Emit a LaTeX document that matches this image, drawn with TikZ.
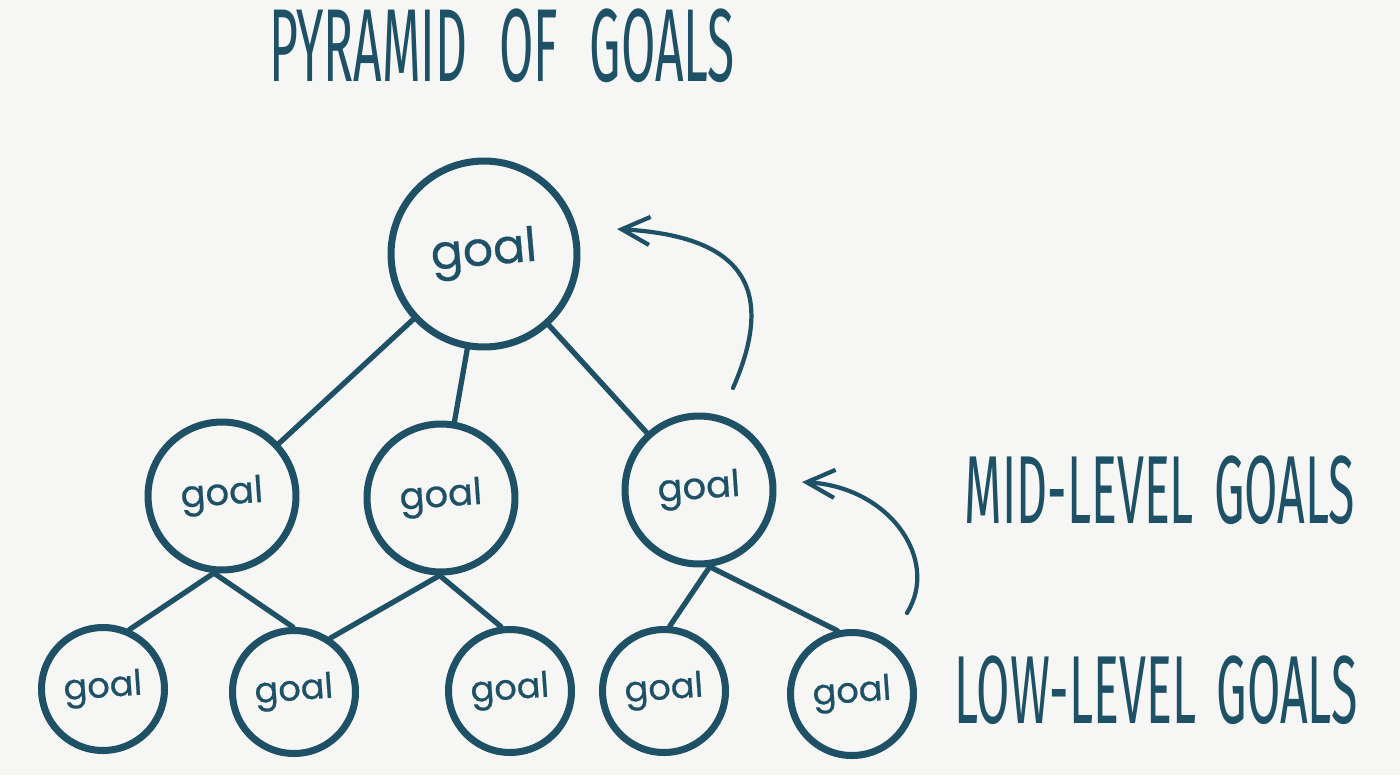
\documentclass[tikz,border=0pt]{standalone}
\usepackage{fontspec}
\usetikzlibrary{arrows.meta}
\newfontfamily\handfont[FakeStretch=0.5, WordSpace=1.6]{Fira Sans}
\newfontfamily\titlefont[FakeStretch=0.48, WordSpace=2.4]{Fira Sans}
\newfontfamily\goalfont[FakeBold=0.6]{Poppins}
\definecolor{ink}{HTML}{1E5166}
\definecolor{paper}{HTML}{F6F6F5}

\begin{document}
\begin{tikzpicture}[
            x = 0.02cm, y = -0.02cm, % one unit is one pixel, y runs down
            > = {Straight Barb[length=16pt, width=16pt]}, % open arrow head
            line cap = round,
            line join = round
        ]

        \tikzstyle{goal}=[
            circle,
            draw = ink,
            line width = 4pt,
            text = ink,
            inner sep = 0pt
        ]
        \tikzstyle{topgoal}=[goal, minimum size = 3.72cm, font = \goalfont\fontsize{27}{27}\selectfont]
        \tikzstyle{midgoal}=[goal, minimum size = 2.96cm, font = \goalfont\fontsize{21}{21}\selectfont]
        \tikzstyle{lowgoal}=[goal, minimum size = 2.46cm, font = \goalfont\fontsize{20}{20}\selectfont]
        \tikzstyle{link}=[draw = ink, line width = 3pt]
        \tikzstyle{climb}=[draw = ink, line width = 2.4pt, ->]
        \tikzstyle{heading}=[text = ink, font = \titlefont\fontsize{59}{59}\selectfont]
        \tikzstyle{side}=[text = ink, font = \handfont\fontsize{55}{55}\selectfont]

        % paper
        \fill[paper] (0,0) rectangle (1400,775);

        \node[heading] (title) at (502,46) {PYRAMID OF GOALS};

        % the goals
        \node[topgoal, rotate = 5] (top) at (484,254) {goal};
        \node[midgoal, rotate = 4] (midL) at (222,496) {goal};
        \node[midgoal, rotate = 4] (midC) at (441,498) {goal};
        \node[midgoal, rotate = 4] (midR) at (699,490) {goal};
        \node[lowgoal, rotate = 4] (low1) at (103,689) {goal};
        \node[lowgoal, rotate = 4] (low2) at (294,692) {goal};
        \node[lowgoal, rotate = 4] (low3) at (510,691) {goal};
        \node[lowgoal, rotate = 4] (low4) at (664,691) {goal};
        \node[lowgoal, rotate = 4] (low5) at (852,694) {goal};

        \draw[link] (top) -- (midL);
        \draw[link] (top) -- (midC);
        \draw[link] (top) -- (midR);
        \draw[link] (midL.-100) -- (low1.62);
        \draw[link] (midL.-100) -- (low2.87);
        \draw[link] (midC.-95) -- (low2.52);
        \draw[link] (midC.-95) -- (low3.94);
        \draw[link] (midR.-86) -- (low4.81);
        \draw[link] (midR.-86) -- (low5.99);

        % arrows up the pyramid
        \coordinate (up1s) at (733,388);
        \coordinate (up1e) at (617,229);
        \coordinate (up2s) at (907,613);
        \coordinate (up2e) at (802,482);
        \draw[climb] (up1s) .. controls (785,270) and (720,235) .. (up1e);
        \draw[climb] (up2s) .. controls (940,560) and (890,487) .. (up2e);

        \node[side] (midlabel) at (1160,490) {MID-LEVEL GOALS};
        \node[side] (lowlabel) at (1156,690) {LOW-LEVEL GOALS};
    \end{tikzpicture}
\end{document}
